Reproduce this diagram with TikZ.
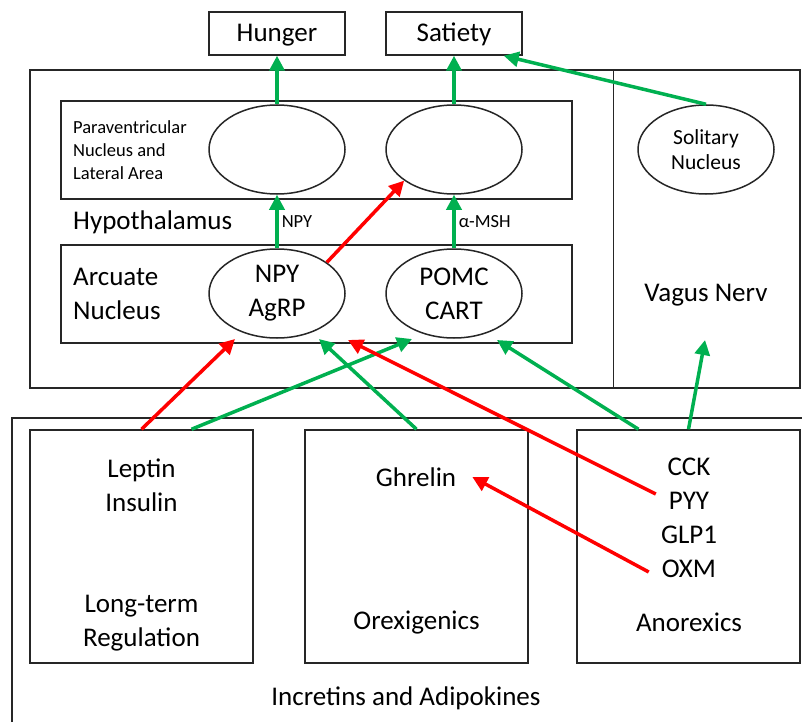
\documentclass[tikz,border=0pt]{standalone}
\usepackage{fontspec}
\setmainfont{Carlito}
\usetikzlibrary{arrows.meta,shapes.geometric}

\definecolor{arrgreen}{HTML}{00B050}
\definecolor{arrred}{HTML}{FF0000}
\definecolor{boxline}{HTML}{262626}
\newcommand\fbig{\fontsize{27}{34}\selectfont}
\newcommand\fmid{\fontsize{21.5}{25.7}\selectfont}
\newcommand\fsmall{\fontsize{18.5}{22.7}\selectfont}

\begin{document}
\begin{tikzpicture}[x=1pt,y=-1pt,
          box/.style={draw=boxline,line width=1.5pt,rectangle,inner sep=0pt,font=\fbig},
          ell/.style={draw=boxline,line width=1.5pt,ellipse,minimum width=136pt,minimum height=89pt,inner sep=0pt,align=center,font=\fbig},
          txt/.style={inner sep=0pt,align=center,font=\fbig},
          gr/.style={draw=arrgreen,line width=3.5pt,-{Triangle[length=15pt,width=15pt]}},
          rd/.style={draw=arrred,line width=3.5pt,-{Triangle[length=15pt,width=15pt]}}]
          \useasboundingbox (0,0) rectangle (802,722);

          % top boxes
          \node[box,minimum width=136pt,minimum height=43pt,text depth=2pt] (hunger) at (277,33.5) {Hunger};
          \node[box,minimum width=136pt,minimum height=43pt,text depth=2pt] (satiety) at (454,33.5) {Satiety};

          % hypothalamus
          \draw[boxline,line width=1.5pt] (30,70) rectangle (800,388);
          \draw[boxline,line width=0.8pt] (613,70) -- (613,388);
          \draw[boxline,line width=1.5pt] (61,101) rectangle (572,199);
          \draw[boxline,line width=1.5pt] (61,245) rectangle (572,343);

          \node[txt,anchor=west,align=left,font=\fsmall] (pvnlbl) at (73,150) {Paraventricular\\Nucleus and\\Lateral Area};
          \node[txt,anchor=west] (hyplbl) at (73,222) {Hypothalamus};
          \node[txt,anchor=west,align=left] (arclbl) at (73,294) {Arcuate\\Nucleus};

          \node[ell] (pvnA) at (277,149.5) {};
          \node[ell] (pvnB) at (454,149.5) {};
          \node[ell] (npy) at (277,293.5) {NPY\\AgRP};
          \node[ell] (pomc) at (454,293.5) {POMC\\CART};
          \node[ell,font=\fmid] (sol) at (706,149.5) {Solitary\\Nucleus};
          \node[txt] (vagus) at (706,295) {Vagus Nerv};

          % incretins and adipokines
          \draw[boxline,line width=1.5pt] (12,722) |- (802,418);
          \node[box,minimum width=223pt,minimum height=233pt] (lept) at (141.5,546.5) {};
          \node[box,minimum width=223pt,minimum height=233pt] (orex) at (416.5,546.5) {};
          \node[box,minimum width=223pt,minimum height=233pt] (anor) at (688.5,546.5) {};

          \node[txt] (leptlbl) at (141.5,485) {Leptin\\Insulin};
          \node[txt] (longlbl) at (141.5,623) {Long-term\\Regulation};
          \node[txt] (ghrel) at (416,477) {Ghrelin};
          \node[txt] (orexlbl) at (416.5,623) {Orexigenics};
          \node[txt] (cck) at (689,467) {CCK};
          \node[txt] (pyy) at (689,501) {PYY};
          \node[txt] (glp) at (689,535) {GLP1};
          \node[txt] (oxm) at (689,569) {OXM};
          \node[txt] (anorlbl) at (689,622) {Anorexics};
          \node[txt] (incr) at (406,698) {Incretins and Adipokines};

          \coordinate (t1) at (235,339);
          \coordinate (t2) at (412,339);
          \coordinate (t3) at (319,339);
          \coordinate (t4) at (348,340);
          \coordinate (t5) at (497,340);
          \coordinate (t6) at (705,340);

          % arrows
          \draw[gr] (pvnA.north) -- (hunger.south);
          \draw[gr] (pvnB.north) -- (satiety.south);
          \draw[gr] (sol.north) -- ([xshift=-19pt]satiety.south east);
          \draw[gr] (npy.north) -- node[right,xshift=3pt,inner sep=0pt,font=\fsmall] (npylbl) {NPY} (pvnA.south);
          \draw[gr] (pomc.north) -- node[right,xshift=3pt,inner sep=0pt,font=\fsmall] (msh) {α-MSH} (pvnB.south);
          \draw[rd] (npy.32.7) -- (pvnB.212.7);
          \draw[rd] (lept.north) -- (t1);
          \draw[gr] ([xshift=50pt]lept.north) -- (t2);
          \draw[gr] (orex.north) -- (t3);
          \draw[rd] ([shift={(-13,-7)}]pyy.west) -- (t4);
          \draw[gr] ([xshift=-50pt]anor.north) -- (t5);
          \draw[gr] (anor.north) -- (t6);
          \draw[rd] ([shift={(-13,3)}]oxm.west) -- ([xshift=16pt]ghrel.east);

          \end{tikzpicture}
\end{document}
